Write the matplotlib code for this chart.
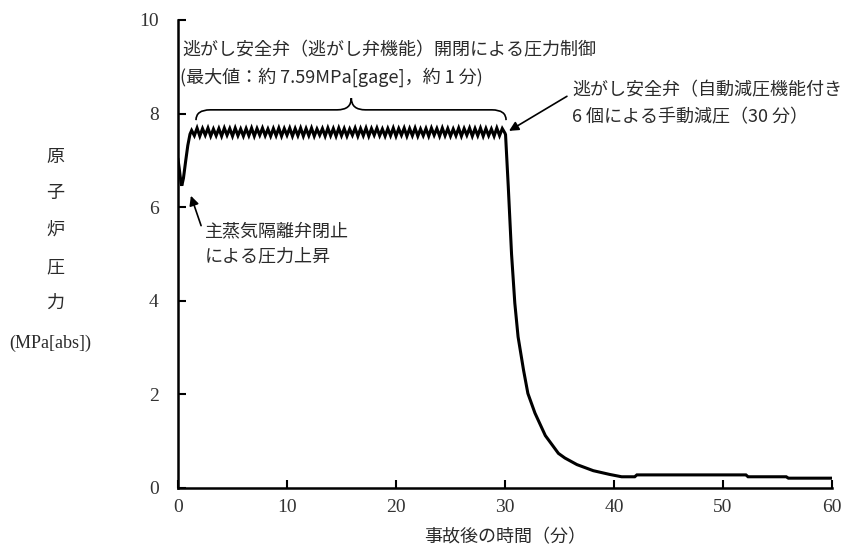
import matplotlib
matplotlib.use("Agg")
import matplotlib.pyplot as plt
from matplotlib.path import Path
from matplotlib.patches import PathPatch

plt.rcParams['font.family'] = ['Noto Sans CJK JP', 'DejaVu Sans']

# ---------------- data ----------------
t_start = [0.0, 0.1, 0.2, 0.3, 0.35, 0.5, 0.7, 0.9, 1.1, 1.25]
p_start = [7.02, 6.85, 6.66, 6.5, 6.46, 6.62, 6.98, 7.32, 7.56, 7.64]

t_osc = [
    1.50, 1.75, 2.00, 2.25, 2.50, 2.75, 3.00, 3.25, 3.50, 3.75,
    4.00, 4.25, 4.50, 4.75, 5.00, 5.25, 5.50, 5.75, 6.00, 6.25,
    6.50, 6.75, 7.00, 7.25, 7.50, 7.75, 8.00, 8.25, 8.50, 8.75,
    9.00, 9.25, 9.50, 9.75, 10.00, 10.25, 10.50, 10.75, 11.00, 11.25,
    11.50, 11.75, 12.00, 12.25, 12.50, 12.75, 13.00, 13.25, 13.50, 13.75,
    14.00, 14.25, 14.50, 14.75, 15.00, 15.25, 15.50, 15.75, 16.00, 16.25,
    16.50, 16.75, 17.00, 17.25, 17.50, 17.75, 18.00, 18.25, 18.50, 18.75,
    19.00, 19.25, 19.50, 19.75, 20.00, 20.25, 20.50, 20.75, 21.00, 21.25,
    21.50, 21.75, 22.00, 22.25, 22.50, 22.75, 23.00, 23.25, 23.50, 23.75,
    24.00, 24.25, 24.50, 24.75, 25.00, 25.25, 25.50, 25.75, 26.00, 26.25,
    26.50, 26.75, 27.00, 27.25, 27.50, 27.75, 28.00, 28.25, 28.50, 28.75,
    29.00, 29.25, 29.50, 29.75, 30.00,
]
p_osc = [
    7.53, 7.69, 7.52, 7.68, 7.54, 7.69, 7.52, 7.67, 7.53, 7.68,
    7.52, 7.69, 7.54, 7.68, 7.52, 7.69, 7.53, 7.67, 7.52, 7.68,
    7.53, 7.69, 7.52, 7.68, 7.54, 7.69, 7.53, 7.67, 7.52, 7.68,
    7.53, 7.69, 7.52, 7.68, 7.54, 7.69, 7.52, 7.68, 7.53, 7.69,
    7.52, 7.68, 7.53, 7.69, 7.52, 7.67, 7.54, 7.68, 7.52, 7.69,
    7.53, 7.68, 7.52, 7.69, 7.53, 7.68, 7.52, 7.67, 7.54, 7.69,
    7.52, 7.68, 7.53, 7.69, 7.52, 7.68, 7.54, 7.69, 7.53, 7.67,
    7.52, 7.68, 7.53, 7.69, 7.52, 7.68, 7.54, 7.69, 7.52, 7.68,
    7.53, 7.69, 7.52, 7.67, 7.53, 7.68, 7.52, 7.69, 7.54, 7.68,
    7.52, 7.69, 7.53, 7.68, 7.52, 7.67, 7.53, 7.69, 7.52, 7.68,
    7.54, 7.69, 7.52, 7.68, 7.53, 7.69, 7.52, 7.68, 7.53, 7.67,
    7.52, 7.69, 7.53, 7.68, 7.58,
]

t_drop = [30.05, 30.3, 30.6, 30.9, 31.2, 31.7, 32.1, 32.75, 33.7, 34.9,
          35.5, 36.6, 38.1, 39.6, 40.7, 41.9, 42.1, 52.1, 52.3, 55.8, 56.0, 60.0]
p_drop = [7.55, 6.44, 5.0, 3.95, 3.23, 2.52, 2.02, 1.60, 1.12, 0.74,
          0.64, 0.50, 0.37, 0.29, 0.24, 0.24, 0.28, 0.28, 0.24, 0.24, 0.21, 0.21]

x_ticks = [0, 10, 20, 30, 40, 50, 60]
y_ticks = [0, 2, 4, 6, 8, 10]

# brace span (minutes / MPa)
brace_x = [1.65, 15.9, 30.1]
brace_y = [7.86, 8.08, 8.33]

times = t_start + t_osc + t_drop
press = p_start + p_osc + p_drop

# ---------------- figure ----------------
W, H = 846, 552
fig = plt.figure(figsize=(W / 100, H / 100), dpi=100)
ax = fig.add_axes([178 / W, 1 - 488 / H, (832 - 178) / W, (488 - 20) / H])

def px(x, y):
    return (x / W, 1 - y / H)

ax.plot(times, press, color='black', lw=2.2, solid_joinstyle='miter')

ax.set_xlim(0, 60)
ax.set_ylim(0, 10)
for s in ['top', 'right']:
    ax.spines[s].set_visible(False)
for s in ['left', 'bottom']:
    ax.spines[s].set_linewidth(1.8)
ax.set_xticks(x_ticks)
ax.set_yticks(y_ticks)
ax.tick_params(direction='in', length=6, width=1.5, pad=8)
ax.set_xticklabels([str(v) for v in x_ticks], family='Liberation Serif', fontsize=14, color='#333333')
ax.set_yticklabels([str(v) for v in y_ticks], family='Liberation Serif', fontsize=14, color='#333333')
ax.tick_params(axis='y', pad=14)

txt_col = '#2a2a2a'
jp = dict(fontsize=13, color=txt_col)

# y label stacked
for ch, yy in zip(['原', '子', '炉', '圧', '力'], [157, 193, 230, 267, 303]):
    fig.text(*px(55, yy), ch, ha='center', va='center', **jp)
fig.text(*px(50, 343), '(MPa[abs])', ha='center', va='center',
         family=['Liberation Serif', 'DejaVu Sans'], fontsize=13, color=txt_col)

# x label
fig.text(*px(505, 537), '事故後の時間（分）', ha='center', va='center', **jp)

# annotation 1
fig.text(*px(182, 50), '逃がし安全弁（逃がし弁機能）開閉による圧力制御', ha='left', va='center', **jp)
fig.text(*px(180, 77), '(最大値：約 7.59MPa[gage]，約 1 分)', ha='left', va='center', **jp)

# brace
x0, xm, x1 = brace_x
yb, yh, yt = brace_y
r = 1.3
verts = [(x0, yb), (x0, yh), (x0 + r, yh),
         (xm - r, yh), (xm, yh), (xm, yt),
         (xm, yh), (xm + r, yh),
         (x1 - r, yh), (x1, yh), (x1, yb)]
codes = [Path.MOVETO, Path.CURVE3, Path.CURVE3,
         Path.LINETO, Path.CURVE3, Path.CURVE3,
         Path.CURVE3, Path.CURVE3,
         Path.LINETO, Path.CURVE3, Path.CURVE3]
ax.add_patch(PathPatch(Path(verts, codes), fill=False, lw=1.2, color='black'))

# annotation 2 (right)
ax.annotate('', xy=(30.15, 7.6), xytext=(35.9, 8.4),
            arrowprops=dict(arrowstyle='-|>', color='black', lw=1.2, mutation_scale=14))
fig.text(*px(572, 90), '逃がし安全弁（自動減圧機能付き', ha='left', va='center', **jp)
fig.text(*px(572, 117), '6 個による手動減圧（30 分）', ha='left', va='center', **jp)

# annotation 3
ax.annotate('', xy=(1.1, 6.3), xytext=(2.2, 5.55),
            arrowprops=dict(arrowstyle='-|>', color='black', lw=1.2, mutation_scale=14))
fig.text(*px(205, 231), '主蒸気隔離弁閉止', ha='left', va='center', **jp)
fig.text(*px(205, 256), 'による圧力上昇', ha='left', va='center', **jp)

fig.savefig('out.png', dpi=100)
